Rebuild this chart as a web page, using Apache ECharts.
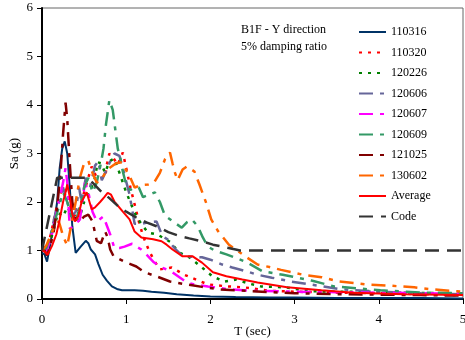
<!DOCTYPE html>
<html>
<head>
<meta charset="utf-8">
<script src="https://cdn.jsdelivr.net/npm/echarts@6/dist/echarts.min.js"></script>
<style>html,body{margin:0;padding:0;background:#fff}#c{width:465px;height:340px}</style>
</head>
<body>
<div id="c"></div>
<script>
// ---- data: [T (sec), Sa (g)] ----
const s110316 = [[0,0.95],[0.03,0.92],[0.06,0.77],[0.09,1.05],[0.12,1.35],[0.15,1.65],[0.18,2.0],[0.21,2.7],[0.24,3.1],[0.27,3.25],[0.3,3.0],[0.33,2.3],[0.36,1.5],[0.4,0.95],[0.46,1.08],[0.52,1.2],[0.55,1.15],[0.58,1.02],[0.63,0.92],[0.67,0.72],[0.72,0.5],[0.77,0.38],[0.83,0.26],[0.9,0.2],[0.95,0.18],[1.1,0.18],[1.2,0.17],[1.3,0.15],[1.45,0.13],[1.6,0.1],[1.8,0.07],[2.0,0.05],[2.3,0.04],[2.7,0.03],[3.0,0.03],[3.5,0.02],[4.0,0.02],[4.5,0.02],[5.0,0.01]];
const s110320 = [[0,1.0],[0.05,1.0],[0.1,1.3],[0.15,1.7],[0.2,2.1],[0.25,2.3],[0.3,2.2],[0.35,1.8],[0.4,1.7],[0.45,1.9],[0.5,2.2],[0.55,2.5],[0.59,2.73],[0.65,2.5],[0.7,2.5],[0.75,2.5],[0.77,2.77],[0.8,3.0],[0.85,2.9],[0.9,2.77],[0.96,3.02],[1.0,2.7],[1.05,2.3],[1.1,1.95],[1.15,1.6],[1.2,1.3],[1.27,1.0],[1.33,0.8],[1.4,0.61],[1.54,0.65],[1.69,0.5],[1.83,0.4],[1.97,0.3],[2.2,0.26],[2.4,0.24],[2.7,0.17],[3.0,0.15],[3.5,0.13],[4.0,0.12],[4.5,0.1],[5.0,0.08]];
const s120226 = [[0,1.0],[0.05,1.0],[0.1,1.2],[0.15,1.5],[0.19,1.78],[0.25,1.7],[0.3,1.9],[0.35,1.75],[0.39,1.64],[0.43,1.58],[0.5,2.0],[0.58,2.26],[0.63,2.5],[0.66,2.82],[0.7,2.8],[0.75,2.6],[0.8,2.84],[0.86,2.9],[0.92,2.6],[1.0,2.2],[1.06,1.95],[1.12,1.7],[1.2,1.5],[1.26,1.37],[1.37,1.33],[1.45,1.25],[1.52,1.18],[1.63,0.96],[1.75,0.86],[1.9,0.65],[2.03,0.46],[2.17,0.36],[2.31,0.4],[2.45,0.32],[2.6,0.26],[2.9,0.24],[3.18,0.16],[3.5,0.15],[3.9,0.15],[4.3,0.13],[4.7,0.12],[5.0,0.12]];
const s120606 = [[0,1.0],[0.05,1.0],[0.1,1.3],[0.15,1.7],[0.2,2.0],[0.25,2.3],[0.3,2.0],[0.35,1.7],[0.4,1.8],[0.44,2.3],[0.47,2.0],[0.52,2.5],[0.57,2.3],[0.63,2.75],[0.67,2.84],[0.71,2.45],[0.75,2.6],[0.8,2.8],[0.86,3.0],[0.92,2.95],[0.96,2.7],[1.0,2.42],[1.04,2.15],[1.07,1.85],[1.1,1.55],[1.18,1.55],[1.26,1.58],[1.36,1.6],[1.43,1.3],[1.49,1.23],[1.55,1.1],[1.6,1.0],[1.67,0.88],[1.9,0.86],[2.0,0.81],[2.14,0.71],[2.26,0.65],[2.43,0.57],[2.56,0.5],[2.73,0.44],[2.96,0.36],[3.26,0.28],[3.55,0.2],[4.0,0.15],[4.5,0.12],[5.0,0.1]];
const s120607 = [[0,1.0],[0.05,1.0],[0.1,1.2],[0.15,1.6],[0.2,2.0],[0.25,2.4],[0.28,2.7],[0.3,2.4],[0.33,1.45],[0.38,1.5],[0.45,1.64],[0.51,2.4],[0.55,2.2],[0.6,1.8],[0.65,1.6],[0.73,1.7],[0.78,1.47],[0.81,1.33],[0.86,1.05],[0.92,1.05],[0.98,1.08],[1.07,1.14],[1.12,1.08],[1.18,1.02],[1.25,0.9],[1.32,0.77],[1.4,0.67],[1.55,0.55],[1.72,0.34],[1.81,0.3],[1.97,0.26],[2.22,0.2],[2.5,0.17],[3.0,0.15],[3.5,0.14],[4.0,0.13],[4.5,0.12],[5.0,0.11]];
const s120609 = [[0,1.0],[0.05,1.05],[0.1,1.3],[0.15,1.6],[0.2,1.9],[0.25,2.2],[0.3,2.0],[0.35,1.7],[0.4,1.6],[0.45,1.9],[0.5,2.3],[0.55,2.5],[0.6,2.2],[0.65,2.4],[0.7,2.8],[0.73,3.1],[0.76,3.6],[0.8,4.1],[0.84,3.9],[0.87,3.5],[0.9,3.1],[0.93,2.9],[0.96,2.63],[1.0,2.35],[1.05,2.25],[1.1,2.3],[1.15,2.3],[1.2,2.1],[1.27,2.15],[1.34,2.2],[1.4,2.0],[1.46,1.72],[1.57,1.58],[1.66,1.47],[1.72,1.58],[1.78,1.64],[1.85,1.5],[1.91,1.27],[1.97,1.08],[2.05,1.0],[2.19,0.92],[2.3,0.85],[2.44,0.75],[2.62,0.57],[2.86,0.5],[2.98,0.46],[3.2,0.38],[3.47,0.26],[3.74,0.22],[4.02,0.18],[4.54,0.13],[5.0,0.12]];
const s121025 = [[0,1.0],[0.03,1.0],[0.06,0.9],[0.1,1.1],[0.14,1.4],[0.18,1.9],[0.22,2.6],[0.25,3.4],[0.28,4.05],[0.3,3.7],[0.33,2.8],[0.36,2.0],[0.4,1.65],[0.45,1.6],[0.5,1.7],[0.55,1.74],[0.6,1.6],[0.65,1.2],[0.7,1.15],[0.75,1.39],[0.78,1.27],[0.81,1.02],[0.85,0.88],[0.9,0.84],[0.98,0.77],[1.05,0.72],[1.12,0.67],[1.22,0.55],[1.37,0.46],[1.52,0.36],[1.72,0.3],[1.9,0.25],[2.1,0.2],[2.5,0.16],[3.0,0.12],[3.5,0.1],[4.0,0.09],[4.5,0.08],[5.0,0.07]];
const s130602 = [[0,1.0],[0.05,1.1],[0.1,1.3],[0.15,1.5],[0.2,1.6],[0.25,1.3],[0.3,1.1],[0.35,1.55],[0.4,2.0],[0.45,2.5],[0.5,2.8],[0.55,2.85],[0.6,2.6],[0.65,2.4],[0.7,2.45],[0.75,2.6],[0.8,2.7],[0.88,2.8],[0.95,2.82],[1.0,2.65],[1.05,2.5],[1.1,2.3],[1.18,2.35],[1.26,2.36],[1.33,2.4],[1.4,2.6],[1.46,2.88],[1.52,3.02],[1.55,2.8],[1.58,2.6],[1.61,2.45],[1.67,2.67],[1.72,2.73],[1.81,2.63],[1.87,2.36],[1.95,1.98],[2.01,1.64],[2.09,1.4],[2.22,1.12],[2.43,0.86],[2.56,0.71],[2.7,0.66],[2.84,0.6],[2.97,0.55],[3.1,0.5],[3.32,0.45],[3.53,0.36],[3.85,0.3],[4.09,0.28],[4.42,0.24],[4.63,0.2],[4.93,0.16],[5.0,0.15]];
const sAverage = [[0,1.02],[0.07,0.92],[0.12,1.1],[0.17,1.33],[0.21,1.64],[0.25,2.0],[0.28,2.2],[0.3,2.36],[0.33,2.1],[0.36,1.75],[0.39,1.6],[0.43,1.7],[0.47,2.0],[0.53,2.2],[0.59,1.85],[0.63,1.89],[0.69,2.0],[0.74,2.1],[0.78,2.19],[0.82,2.15],[0.86,2.01],[0.96,1.8],[1.04,1.64],[1.1,1.39],[1.18,1.27],[1.32,1.23],[1.42,1.19],[1.48,1.12],[1.55,1.02],[1.67,0.88],[1.79,0.88],[1.9,0.75],[2.03,0.55],[2.19,0.47],[2.38,0.4],[2.56,0.34],[2.91,0.24],[3.32,0.18],[3.7,0.13],[4.3,0.1],[5.0,0.08]];
const sCode = [[0,1.0],[0.18,2.5],[0.53,2.5],[0.6,2.4],[0.7,2.22],[0.8,2.08],[0.9,1.92],[1.0,1.8],[1.12,1.68],[1.24,1.58],[1.36,1.5],[1.5,1.38],[1.63,1.3],[1.75,1.25],[1.9,1.19],[2.03,1.12],[2.14,1.08],[2.3,1.02],[2.35,1.0],[5.0,1.0]];

const seriesNames = ['110316','110320','120226','120606','120607','120609','121025','130602','Average','Code'];
const seriesData = [s110316,s110320,s120226,s120606,s120607,s120609,s121025,s130602,sAverage,sCode];
const xTicks = [0,1,2,3,4,5];
const yTicks = [0,1,2,3,4,5,6];

const styles = [
  {color:'#003366', type:'solid', width:2},
  {color:'#ff0000', type:[3,6], width:2.5},
  {color:'#008000', type:[3,6], width:2.5},
  {color:'#666699', type:[14,7,4,7], width:2.5},
  {color:'#ff00ff', type:[14,7,4,7], width:2.5},
  {color:'#339966', type:[14,7,4,7], width:2.5},
  {color:'#800000', type:[14,7,4,7], width:2.5},
  {color:'#ff6600', type:[14,7,4,7], width:2.5},
  {color:'#ff0000', type:'solid', width:2},
  {color:'#333333', type:[14,8], width:2.5}
];

const FONT = '"Liberation Serif", "Times New Roman", serif';

const chart = echarts.init(document.getElementById('c'), null, {renderer:'canvas'});
chart.setOption({
  animation:false,
  backgroundColor:'#fff',
  grid:{left:42, top:8, right:2, bottom:41, show:true, borderColor:'#666', borderWidth:1, containLabel:false, outerBoundsMode:'none'},
  xAxis:{
    type:'value', min:xTicks[0], max:xTicks[xTicks.length-1], interval:1,
    name:'T (sec)', nameLocation:'middle', nameGap:26, nameMoveOverlap:false,
    nameTextStyle:{fontFamily:FONT, fontSize:13, color:'#000'},
    axisLine:{show:true, onZero:false, lineStyle:{color:'#000', width:2}},
    axisTick:{show:true, inside:false, length:5, lineStyle:{color:'#000'}},
    axisLabel:{fontFamily:FONT, fontSize:13, color:'#000', margin:14},
    splitLine:{show:false}
  },
  yAxis:{
    type:'value', min:yTicks[0], max:yTicks[yTicks.length-1], interval:1,
    name:'Sa (g)', nameLocation:'middle', nameGap:21, nameRotate:90, nameMoveOverlap:false,
    nameTextStyle:{fontFamily:FONT, fontSize:13, color:'#000'},
    axisLine:{show:true, onZero:false, lineStyle:{color:'#000', width:2}},
    axisTick:{show:true, inside:false, length:5, lineStyle:{color:'#000'}},
    axisLabel:{fontFamily:FONT, fontSize:13, color:'#000', margin:9},
    splitLine:{show:false}
  },
  legend:{
    show:true, orient:'vertical', left:353, top:21, itemWidth:27, itemHeight:14, itemGap:8.5,
    textStyle:{fontFamily:FONT, fontSize:12, color:'#000'},
    itemStyle:{opacity:0},
    data:seriesNames,
    selectedMode:false
  },
  graphic:[
    {type:'text', left:241, top:24, style:{text:'B1F - Y direction', font:'12px '+FONT, fill:'#000'}},
    {type:'text', left:241, top:41, style:{text:'5% damping ratio', font:'12px '+FONT, fill:'#000'}}
  ],
  series:seriesNames.map((n,i)=>({
    name:n, type:'line', data:seriesData[i], showSymbol:false, symbol:'none',
    lineStyle:{color:styles[i].color, type:styles[i].type, width:styles[i].width},
    itemStyle:{color:styles[i].color},
    z: i>=8 ? 3 : 2
  }))
});
</script>
</body>
</html>
